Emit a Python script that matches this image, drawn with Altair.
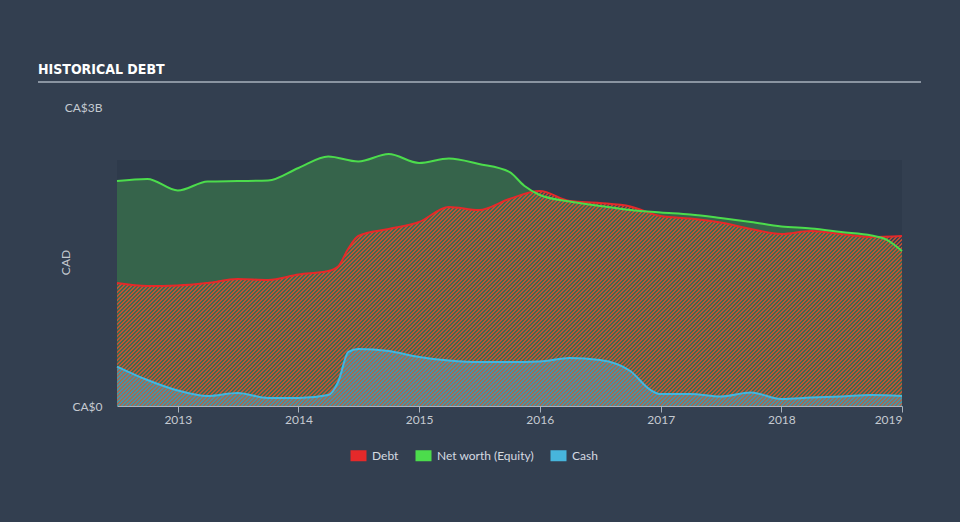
import altair as alt
import pandas as pd

# ---------------- data (values in CA$ billions) ----------------
equity_dates = ["2012-07-01", "2012-10-01", "2013-01-01", "2013-04-01", "2013-07-01", "2013-10-01",
                "2014-01-01", "2014-04-01", "2014-07-01", "2014-10-01", "2015-01-01", "2015-04-01",
                "2015-07-01", "2015-10-01", "2015-11-15", "2016-01-01", "2016-04-01", "2016-07-01",
                "2016-10-01", "2017-01-01", "2017-04-01", "2017-07-01", "2017-10-01", "2018-01-01",
                "2018-04-01", "2018-07-01", "2018-10-01", "2018-11-15", "2019-01-01"]
equity_vals = [2.257, 2.278, 2.162, 2.252, 2.257, 2.262,
               2.388, 2.503, 2.453, 2.528, 2.438, 2.483,
               2.428, 2.348, 2.210, 2.117, 2.052, 2.007,
               1.966, 1.941, 1.921, 1.886, 1.846, 1.801,
               1.781, 1.746, 1.711, 1.670, 1.555]

debt_dates = ["2012-07-01", "2012-10-01", "2013-01-01", "2013-04-01", "2013-07-01", "2013-10-01",
              "2014-01-01", "2014-04-01", "2014-05-01", "2014-06-01", "2014-07-01", "2014-10-01",
              "2015-01-01", "2015-04-01", "2015-07-01", "2015-10-01", "2016-01-01", "2016-04-01",
              "2016-07-01", "2016-10-01", "2017-01-01", "2017-04-01", "2017-07-01", "2017-10-01",
              "2018-01-01", "2018-04-01", "2018-07-01", "2018-10-01", "2019-01-01"]
debt_vals = [1.234, 1.204, 1.209, 1.234, 1.274, 1.264,
             1.319, 1.354, 1.400, 1.580, 1.706, 1.776,
             1.846, 1.997, 1.966, 2.077, 2.157, 2.057,
             2.037, 2.002, 1.906, 1.881, 1.841, 1.776,
             1.726, 1.756, 1.726, 1.696, 1.706]

cash_dates = ["2012-07-01", "2012-10-01", "2013-01-01", "2013-04-01", "2013-07-01", "2013-10-01",
              "2014-01-01", "2014-04-01", "2014-05-01", "2014-06-01", "2014-07-01", "2014-10-01",
              "2015-01-01", "2015-04-01", "2015-07-01", "2015-10-01", "2016-01-01", "2016-04-01",
              "2016-07-01", "2016-10-01", "2016-12-01", "2017-01-01", "2017-04-01", "2017-07-01",
              "2017-10-01", "2018-01-01", "2018-04-01", "2018-07-01", "2018-10-01", "2019-01-01"]
cash_vals = [0.396, 0.261, 0.156, 0.100, 0.130, 0.080,
             0.080, 0.110, 0.241, 0.542, 0.572, 0.552,
             0.492, 0.457, 0.441, 0.441, 0.446, 0.482,
             0.462, 0.351, 0.161, 0.120, 0.120, 0.095,
             0.135, 0.070, 0.085, 0.095, 0.110, 0.100]

series_names = ["Debt", "Net worth (Equity)", "Cash"]
series_colors = ["#e5292a", "#4cdc4c", "#47b5dc"]
year_ticks = [2013, 2014, 2015, 2016, 2017, 2018, 2019]
x_start, x_end = "2012-07-01", "2019-01-01"
band_top = 2.468
y_max = 3
title_text = ["HISTORICAL DEBT"]

# ---------------- frames ----------------
def frame(dates, vals, name):
    return pd.DataFrame({"d": dates, "v": vals, "s": name})

eq_df = frame(equity_dates, equity_vals, "Net worth (Equity)")
debt_df = frame(debt_dates, debt_vals, "Debt")
cash_df = frame(cash_dates, cash_vals, "Cash")
lines_df = pd.concat([debt_df, eq_df, cash_df], ignore_index=True)
band_df = pd.DataFrame({"d": [x_start], "d2": [x_end], "v": [0], "v2": [band_top]})
one_df = pd.DataFrame({"t": title_text})

W, H_TOTAL = 785, 299
PERIOD = 4.0


def hatch(on, off, w, h, phase=0.0, period=PERIOD):
    """Diagonal stripes via a linear gradient (bbox units), stripes at 45 degrees."""
    L = w + h
    half = period / 2.0
    stops = []
    p = 0.0
    while p < L:
        q = (p + phase) % period
        if q < half:
            col, nxt = on, p + (half - q)
        else:
            col, nxt = off, p + (period - q)
        nxt = min(nxt, L)
        stops.append(alt.GradientStop(offset=p / L, color=col))
        stops.append(alt.GradientStop(offset=nxt / L, color=col))
        if nxt - p < 1e-9:
            nxt = p + 1e-3
        p = nxt
    r = h / w
    s = (1 + r) / (1 + r * r)
    return alt.Gradient(gradient="linear", stops=stops, x1=0, y1=0, x2=s, y2=s * r)


debt_h = max(debt_vals) / y_max * H_TOTAL
cash_h = max(cash_vals) / y_max * H_TOTAL
cash_phase = (debt_h - cash_h + PERIOD / 2) % PERIOD

x_scale = alt.Scale(domain=[alt.DateTime(year=2012, month=7, date=1),
                            alt.DateTime(year=2019, month=1, date=1)], nice=False)
y_scale = alt.Scale(domain=[0, y_max], nice=False, zero=True)

x_axis = alt.Axis(values=[alt.DateTime(year=y, month=1, date=1) for y in year_ticks],
                  format="%Y", labelFlush=True, grid=False, domainColor="#a9b2bc",
                  tickColor="#a9b2bc", tickSize=6, labelPadding=2, title=None,
                  labelFontSize=12, labelColor="#c5cad1", labelFont="Lato")
y_axis = alt.Axis(values=[0, y_max], grid=False, domain=False, ticks=False, labelPadding=15,
                  labelExpr="datum.value == 0 ? 'CA$0' : 'CA$' + datum.value + 'B'",
                  title="CAD", titleFont="Lato", titleFontSize=12, titleFontWeight="normal",
                  titleColor="#c5cad1", titleX=-45, titleY=155,
                  labelFontSize=12, labelColor="#c5cad1", labelFont="Lato")

X = alt.X("d:T", scale=x_scale, axis=x_axis)
Y = alt.Y("v:Q", scale=y_scale, axis=y_axis)

band = alt.Chart(band_df).mark_rect(color="#2e3a4b").encode(x=X, x2="d2:T", y=Y, y2="v2:Q")

eq_area = alt.Chart(eq_df).mark_area(interpolate="monotone", color="#4cdc4c", opacity=0.26).encode(
    x=X, y=Y)

debt_area = alt.Chart(debt_df).mark_area(
    interpolate="monotone",
    color=hatch("rgba(226,80,45,0.78)", "rgba(120,150,130,0.12)", W, debt_h)).encode(x=X, y=Y)

cash_area = alt.Chart(cash_df).mark_area(
    interpolate="monotone",
    color=hatch("rgba(71,181,220,0.6)", "rgba(71,181,220,0.2)", W, cash_h, phase=cash_phase)).encode(x=X, y=Y)

lines = alt.Chart(lines_df).mark_line(interpolate="monotone", strokeWidth=2).encode(
    x=X, y=Y,
    color=alt.Color("s:N", scale=alt.Scale(domain=series_names, range=series_colors),
                    sort=series_names,
                    legend=alt.Legend(title=None, orient="none", direction="horizontal",
                                      legendX=228, legendY=335,
                                      symbolType="M-1,0L1,0", symbolSize=256,
                                      symbolStrokeWidth=11, labelOffset=0, columnPadding=-6,
                                      labelFont="Lato", labelFontSize=12, labelColor="#d5dae0")),
    detail="s:N")

title = alt.Chart(one_df).mark_text(align="left", baseline="alphabetic", fontSize=14,
                                    fontWeight="bold", color="#ffffff",
                                    font="Liberation Sans Narrow, DejaVu Sans Condensed, sans-serif").encode(
    x=alt.value(-79), y=alt.value(-33), text="t:N")

rule = alt.Chart(one_df).mark_rule(color="#a9b2bc", strokeWidth=1.5).encode(
    x=alt.value(-79), x2=alt.value(804), y=alt.value(-25))

chart = alt.layer(band, eq_area, debt_area, cash_area, lines, title, rule).properties(
    width=W, height=H_TOTAL, background="#333f50",
    padding={"left": 117, "top": 107, "right": 58, "bottom": 116},
    autosize=alt.AutoSizeParams(type="none"),
).configure_view(stroke=None)

chart.save("out.html", embed_options={"renderer": "svg", "actions": False})
